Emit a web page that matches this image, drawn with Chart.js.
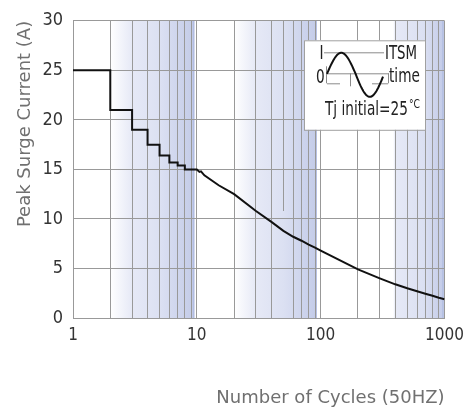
<!DOCTYPE html>
<html>
<head>
<meta charset="utf-8">
<script src="https://cdn.jsdelivr.net/npm/chart.js@4.4.1/dist/chart.umd.min.js"></script>
<style>
  html, body { margin: 0; padding: 0; background: #fff; }
  #wrap { width: 471px; height: 416px; }
</style>
</head>
<body>
<div id="wrap"><canvas id="surge" width="471" height="416"></canvas></div>
<script>
// surge curve (stairs up to 10 cycles, then smooth decay)
const cycles = [1, 2, 2, 3, 3, 4, 4, 5, 5, 6, 6, 7, 7, 8, 8, 10, 10.5, 10.8, 11.5, 15, 20, 30, 40, 50, 60, 70, 80, 90, 100, 200, 300, 400, 500, 600, 700, 800, 900, 1000];
const current = [25, 25, 21, 21, 19, 19, 17.5, 17.5, 16.4, 16.4, 15.7, 15.7, 15.4, 15.4, 15.0, 15.0, 14.75, 14.8, 14.4, 13.4, 12.5, 10.8, 9.7, 8.8, 8.2, 7.8, 7.4, 7.1, 6.8, 4.9, 4.0, 3.4, 3.0, 2.7, 2.45, 2.25, 2.05, 1.9];

const xGridValues = [1, 2, 3, 4, 5, 6, 7, 8, 9, 10, 20, 30, 40, 50, 60, 70, 80, 90, 100, 200, 300, 400, 500, 600, 700, 800, 900, 1000];
const xTickLabels = ['1', '10', '100', '1000'];
const yTicks = [0, 5, 10, 15, 20, 25, 30];

// shaded blue bands behind the grid, in cycle units: [start, light point, end]
const shadeBands = [[2, 3, 9.55], [20, 30, 93], [385, 400, 985]];
// the 50-cycle grid line only runs down to this current
const shortGrid = { x: 50, yTo: 10.8 };

const tickFont = "'DejaVu Sans Condensed', 'Liberation Sans Narrow', sans-serif";
const titleFont = "'DejaVu Sans', sans-serif";
const gridColor = '#999';

const bandsPlugin = {
  id: 'bands',
  beforeDraw(chart) {
    const { ctx, chartArea } = chart;
    const x = chart.scales.x;
    ctx.save();
    shadeBands.forEach(([a, m, b]) => {
      const x0 = x.getPixelForValue(a);
      const xm = x.getPixelForValue(m);
      const x1 = x.getPixelForValue(b);
      const g = ctx.createLinearGradient(x0, 0, x1, 0);
      const mid = (xm - x0) / (x1 - x0);
      g.addColorStop(0, '#ffffff');
      g.addColorStop(Math.max(mid, 0.01), '#e6e9f6');
      g.addColorStop(0.6, '#dbe0f2');
      g.addColorStop(1, '#c3cbe8');
      ctx.fillStyle = g;
      ctx.fillRect(x0, chartArea.top, x1 - x0, chartArea.bottom - chartArea.top);
      ctx.fillStyle = '#b2bde2';
      ctx.fillRect(x1 - 1.5, chartArea.top, 1.5, chartArea.bottom - chartArea.top);
    });
    ctx.restore();
  },
  beforeDatasetsDraw(chart) {
    const { ctx } = chart;
    const px = Math.round(chart.scales.x.getPixelForValue(shortGrid.x)) + 0.5;
    ctx.save();
    ctx.strokeStyle = gridColor;
    ctx.lineWidth = 1;
    ctx.beginPath();
    ctx.moveTo(px, chart.scales.y.getPixelForValue(30));
    ctx.lineTo(px, chart.scales.y.getPixelForValue(shortGrid.yTo));
    ctx.stroke();
    ctx.restore();
  }
};

// narrow text helper for the inset (the datasheet uses a condensed face)
function narrowText(ctx, text, x, y, squeeze) {
  ctx.save();
  ctx.translate(x, y);
  ctx.scale(squeeze, 1);
  ctx.fillText(text, 0, 0);
  const w = ctx.measureText(text).width * squeeze;
  ctx.restore();
  return w;
}

// little ITSM waveform legend box in the upper right
const insetPlugin = {
  id: 'inset',
  afterDraw(chart) {
    const { ctx, chartArea } = chart;
    const bx = chartArea.left + 231;
    const by = chartArea.top + 19.5;
    ctx.save();
    ctx.fillStyle = '#fff';
    ctx.fillRect(bx, by, 121, 89.5);
    ctx.strokeStyle = '#a0a0a0';
    ctx.lineWidth = 1;
    ctx.strokeRect(bx + 0.5, by + 0.5, 121, 89.5);

    ctx.strokeStyle = '#8a8a8a';
    ctx.beginPath();
    ctx.moveTo(bx + 20, by + 12.5); ctx.lineTo(bx + 80, by + 12.5);
    ctx.moveTo(bx + 22, by + 33.5); ctx.lineTo(bx + 85, by + 33.5);
    ctx.moveTo(bx + 22.5, by + 26); ctx.lineTo(bx + 22.5, by + 43);
    ctx.moveTo(bx + 23, by + 43.5); ctx.lineTo(bx + 36, by + 43.5);
    ctx.moveTo(bx + 46.5, by + 33); ctx.lineTo(bx + 46.5, by + 46);
    ctx.moveTo(bx + 84.5, by + 33); ctx.lineTo(bx + 84.5, by + 43);
    ctx.moveTo(bx + 68, by + 43.5); ctx.lineTo(bx + 84, by + 43.5);
    ctx.stroke();

    ctx.strokeStyle = '#111';
    ctx.lineWidth = 2;
    ctx.beginPath();
    for (let i = 0; i <= 60; i++) {
      const t = i / 60;
      const sx = bx + 23 + t * 56;
      const sy = by + 33.5 - Math.sin(t * 2 * Math.PI * 0.98) * (t < 0.5 ? 21 : 23);
      if (i === 0) ctx.moveTo(sx, sy); else ctx.lineTo(sx, sy);
    }
    ctx.stroke();

    ctx.fillStyle = '#222';
    ctx.font = '19px ' + tickFont;
    ctx.textBaseline = 'middle';
    ctx.textAlign = 'left';
    narrowText(ctx, 'I', bx + 15.5, by + 14, 0.8);
    narrowText(ctx, '0', bx + 12, by + 38, 0.8);
    narrowText(ctx, 'ITSM', bx + 81, by + 14, 0.78);
    narrowText(ctx, 'time', bx + 85, by + 37, 0.8);
    ctx.textBaseline = 'alphabetic';
    const w = narrowText(ctx, 'Tj initial=25', bx + 21, by + 74.5, 0.8);
    ctx.font = '12px ' + tickFont;
    narrowText(ctx, '°C', bx + 21 + w + 1, by + 67.5, 0.85);
    ctx.restore();
  }
};

new Chart(document.getElementById('surge'), {
  type: 'line',
  data: {
    datasets: [{
      data: cycles.map((c, i) => ({ x: c, y: current[i] })),
      borderColor: '#111',
      borderWidth: 2,
      pointRadius: 0,
      tension: 0,
      fill: false
    }]
  },
  options: {
    responsive: false,
    animation: false,
    devicePixelRatio: 1,
    layout: { padding: { top: 18, right: 24, left: 0, bottom: 0 } },
    plugins: { legend: { display: false }, tooltip: { enabled: false } },
    scales: {
      x: {
        type: 'logarithmic',
        min: 1,
        max: 1000,
        afterBuildTicks: (s) => { s.ticks = xGridValues.map(v => ({ value: v })); },
        afterFit: (s) => { s.height = 98; },
        grid: {
          drawTicks: false,
          color: (c) => (c.tick && c.tick.value === shortGrid.x ? 'transparent' : gridColor),
          lineWidth: 1
        },
        border: { color: gridColor },
        ticks: {
          autoSkip: false,
          maxRotation: 0,
          padding: 7,
          color: '#333',
          font: { family: tickFont, size: 17 },
          callback: (v) => (xTickLabels.includes(String(v)) ? String(v) : '')
        },
        title: {
          display: true,
          text: 'Number of Cycles (50HZ)',
          align: 'end',
          color: '#707070',
          font: { family: titleFont, size: 18 },
          padding: { top: 0, bottom: 7 }
        }
      },
      y: {
        min: 0,
        max: 30,
        afterBuildTicks: (s) => { s.ticks = yTicks.map(v => ({ value: v })); },
        afterFit: (s) => { s.width = 73; },
        grid: { drawTicks: false, color: gridColor, lineWidth: 1 },
        border: { color: gridColor },
        ticks: {
          padding: 10,
          color: '#333',
          font: { family: tickFont, size: 18 }
        },
        title: {
          display: true,
          text: 'Peak Surge Current (A)',
          align: 'end',
          color: '#707070',
          font: { family: titleFont, size: 18 },
          padding: { top: 15, bottom: 0 }
        }
      }
    }
  },
  plugins: [bandsPlugin, insetPlugin]
});
</script>
</body>
</html>
